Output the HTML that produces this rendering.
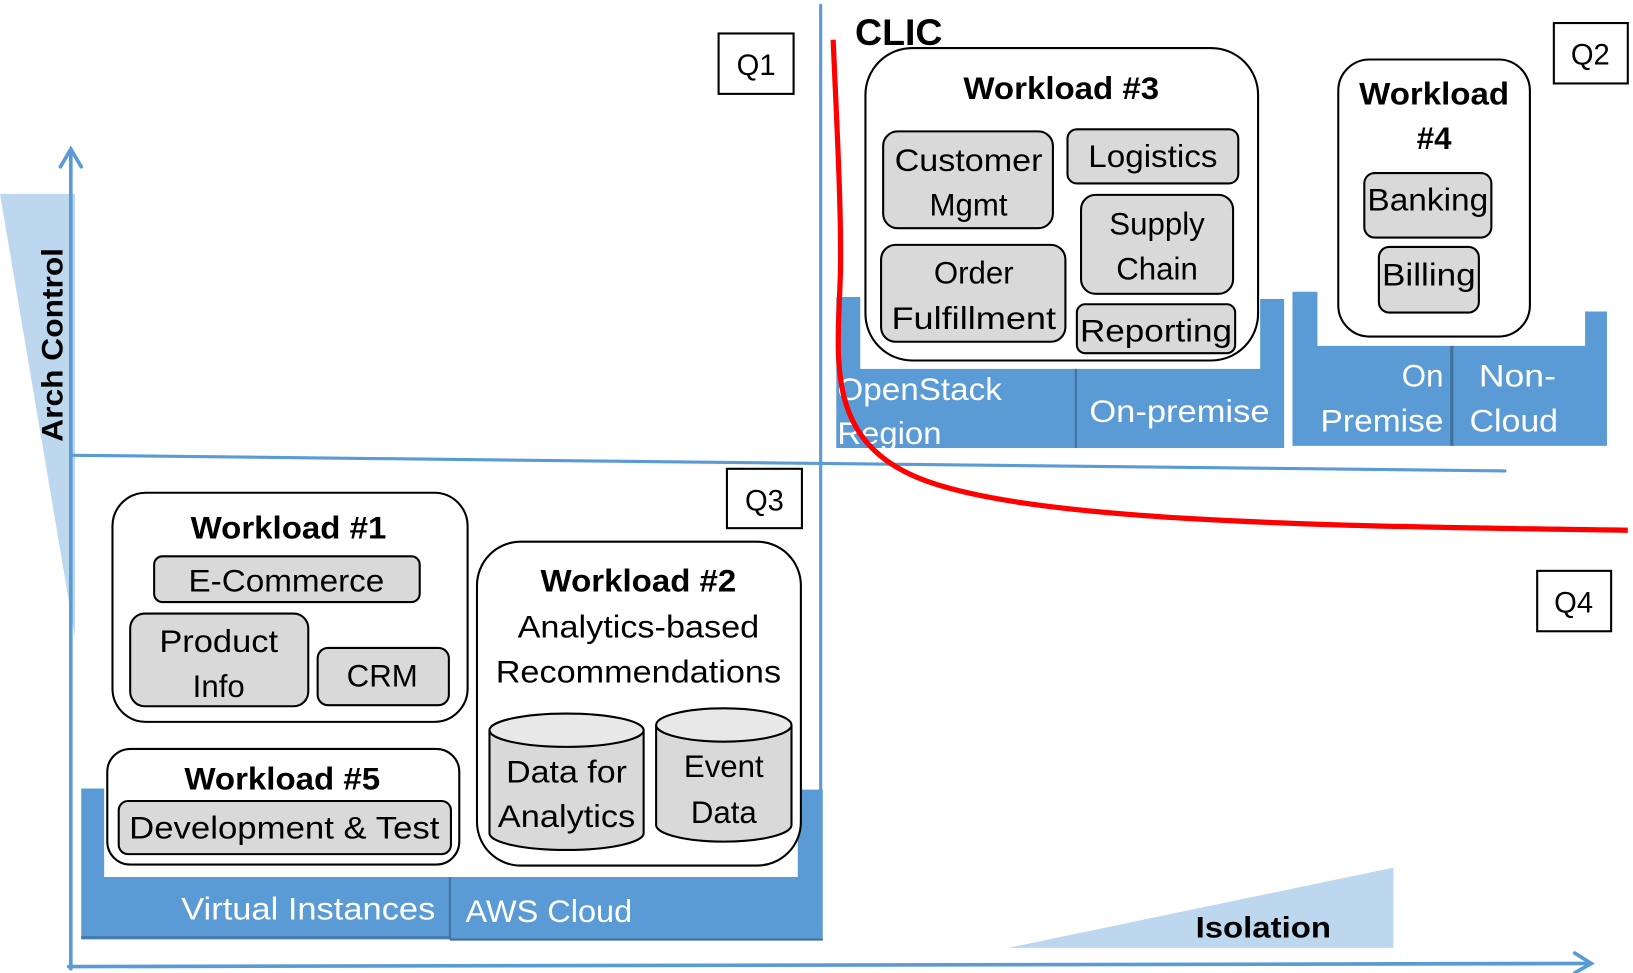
<!DOCTYPE html>
<html><head><meta charset="utf-8"><style>
html,body{margin:0;padding:0;background:#fff;}
svg{display:block;}
text{font-family:"Liberation Sans",sans-serif;fill:#000;}
.b{font-weight:bold;}
.w{fill:#fff;}
</style></head><body>
<svg width="1633" height="973" viewBox="0 0 1568 934" xmlns="http://www.w3.org/2000/svg">
<!-- wedges -->
<polygon points="0,186 72,186 72,612" fill="#bdd7ee"/>
<polygon points="968,910 1338,833 1338,910" fill="#bdd7ee"/>
<!-- axes -->
<g stroke="#5b9bd5" stroke-width="3.5" fill="none" stroke-linecap="round">
<line x1="68" y1="930" x2="68" y2="144"/>
<polyline points="58,160 68,143 78,160"/>
<line x1="66" y1="928" x2="1527" y2="925"/>
<polyline points="1512,915 1528,925 1512,934"/>
<line x1="788" y1="5" x2="788" y2="760" stroke-width="3"/>
<line x1="70" y1="437" x2="1445" y2="452" stroke-width="3"/>
</g>
<text class="b" font-size="28" transform="translate(60,424) rotate(-90)" textLength="186" lengthAdjust="spacingAndGlyphs">Arch Control</text>
<text class="b" font-size="28" x="1148" y="900" textLength="130" lengthAdjust="spacingAndGlyphs">Isolation</text>
<!-- Q boxes -->
<g fill="#fff" stroke="#000" stroke-width="2">
<rect x="690" y="32" width="72" height="58"/>
<rect x="1492" y="22" width="71" height="58"/>
<rect x="698" y="450" width="72" height="57"/>
<rect x="1476" y="548" width="71" height="58"/>
</g>
<g font-size="28" text-anchor="middle">
<text x="726" y="72">Q1</text><text x="1527" y="62">Q2</text>
<text x="734" y="490">Q3</text><text x="1511" y="588">Q4</text>
</g>
<!-- AWS tray -->
<path d="M78,757 H100 V842 H766 V758 H790 V902 H78 Z" fill="#5b9bd5"/>
<line x1="432" y1="842" x2="432" y2="902" stroke="#41719c" stroke-width="2"/>
<path d="M78,900 H432 M432,902 H790" stroke="#41719c" stroke-width="2"/>
<text class="w" font-size="30" x="418" y="883" text-anchor="end" textLength="244" lengthAdjust="spacingAndGlyphs">Virtual Instances</text>
<text class="w" font-size="30" x="447" y="885" textLength="160" lengthAdjust="spacingAndGlyphs">AWS Cloud</text>
<!-- OpenStack tray -->
<path d="M803,285 H826 V354 H1210 V287 H1233 V430 H803 Z" fill="#5b9bd5"/>
<line x1="1033" y1="354" x2="1033" y2="430" stroke="#41719c" stroke-width="2"/>
<text class="w" font-size="30" x="804" y="384" textLength="158" lengthAdjust="spacingAndGlyphs">OpenStack</text>
<text class="w" font-size="30" x="804" y="426" textLength="100" lengthAdjust="spacingAndGlyphs">Region</text>
<text class="w" font-size="30" x="1046" y="405" textLength="173" lengthAdjust="spacingAndGlyphs">On-premise</text>
<!-- Right tray -->
<path d="M1241,280 H1265 V332 H1522 V299 H1543 V428 H1241 Z" fill="#5b9bd5"/>
<line x1="1394" y1="332" x2="1394" y2="428" stroke="#41719c" stroke-width="3"/>
<text class="w" font-size="30" x="1386" y="371" text-anchor="end">On</text>
<text class="w" font-size="30" x="1386" y="414" text-anchor="end" textLength="118" lengthAdjust="spacingAndGlyphs">Premise</text>
<text class="w" font-size="30" x="1420" y="371" textLength="74" lengthAdjust="spacingAndGlyphs">Non-</text>
<text class="w" font-size="30" x="1411" y="414" textLength="85" lengthAdjust="spacingAndGlyphs">Cloud</text>
<!-- workload containers -->
<g fill="#fff" stroke="#000" stroke-width="2">
<rect x="108" y="473" width="341" height="220" rx="32"/>
<rect x="103" y="719" width="338" height="111" rx="22"/>
<rect x="458" y="520" width="311" height="311" rx="42"/>
<rect x="831" y="46" width="377" height="300" rx="45"/>
<rect x="1285" y="57" width="184" height="266" rx="30"/>
</g>
<g fill="#d9d9d9" stroke="#000" stroke-width="2">
<rect x="148" y="534" width="255" height="44" rx="8"/>
<rect x="125" y="589" width="171" height="89" rx="14"/>
<rect x="305" y="622" width="126" height="55" rx="10"/>
<rect x="114" y="769" width="319" height="51" rx="9"/>
<rect x="848" y="126" width="163" height="93" rx="14"/>
<rect x="1025" y="124" width="164" height="52" rx="9"/>
<rect x="1038" y="187" width="146" height="95" rx="14"/>
<rect x="846" y="235" width="177" height="93" rx="14"/>
<rect x="1034" y="292" width="152" height="47" rx="8"/>
<rect x="1310" y="166" width="122" height="62" rx="10"/>
<rect x="1324" y="237" width="96" height="63" rx="10"/>
<!-- cylinders -->
<path d="M470,701 V800 A74,16 0 0 0 618,800 V701" />
<ellipse cx="544" cy="701" rx="74" ry="16" fill="#e8e8e8"/>
<path d="M630,696 V792 A65,16 0 0 0 760,792 V696" />
<ellipse cx="695" cy="696" rx="65" ry="16" fill="#e8e8e8"/>
</g>
<!-- labels -->
<g font-size="30" text-anchor="middle">
<text class="b" x="277" y="517" textLength="188" lengthAdjust="spacingAndGlyphs">Workload #1</text>
<text x="275" y="568" textLength="188" lengthAdjust="spacingAndGlyphs">E-Commerce</text>
<text x="210" y="626" textLength="114" lengthAdjust="spacingAndGlyphs">Product</text>
<text x="210" y="669">Info</text>
<text x="367" y="659">CRM</text>
<text class="b" x="271" y="758" textLength="188" lengthAdjust="spacingAndGlyphs">Workload #5</text>
<text x="273" y="805" textLength="298" lengthAdjust="spacingAndGlyphs">Development &amp; Test</text>
<text class="b" x="613" y="568" textLength="188" lengthAdjust="spacingAndGlyphs">Workload #2</text>
<text x="613" y="612" textLength="232" lengthAdjust="spacingAndGlyphs">Analytics-based</text>
<text x="613" y="655" textLength="274" lengthAdjust="spacingAndGlyphs">Recommendations</text>
<text x="544" y="751" textLength="116" lengthAdjust="spacingAndGlyphs">Data for</text>
<text x="544" y="794" textLength="132" lengthAdjust="spacingAndGlyphs">Analytics</text>
<text x="695" y="746">Event</text>
<text x="695" y="790">Data</text>
<text class="b" x="1019" y="95" textLength="188" lengthAdjust="spacingAndGlyphs">Workload #3</text>
<text x="930" y="164" textLength="142" lengthAdjust="spacingAndGlyphs">Customer</text>
<text x="930" y="207">Mgmt</text>
<text x="1107" y="160" textLength="124" lengthAdjust="spacingAndGlyphs">Logistics</text>
<text x="1111" y="225">Supply</text>
<text x="1111" y="268">Chain</text>
<text x="935" y="272">Order</text>
<text x="935" y="316" textLength="158" lengthAdjust="spacingAndGlyphs">Fulfillment</text>
<text x="1110" y="328" textLength="146" lengthAdjust="spacingAndGlyphs">Reporting</text>
<text class="b" x="1377" y="100" textLength="144" lengthAdjust="spacingAndGlyphs">Workload</text>
<text class="b" x="1377" y="143">#4</text>
<text x="1371" y="202" textLength="116" lengthAdjust="spacingAndGlyphs">Banking</text>
<text x="1372" y="274" textLength="90" lengthAdjust="spacingAndGlyphs">Billing</text>
</g>
<text class="b" font-size="36" x="821" y="43" textLength="84" lengthAdjust="spacingAndGlyphs">CLIC</text>
<!-- red curve -->
<path d="M800,38 C803,110 808,200 807,260 C805,340 790,420 880,458 C980,500 1250,505 1563,509" fill="none" stroke="#ff0000" stroke-width="5"/>
</svg>
</body></html>
